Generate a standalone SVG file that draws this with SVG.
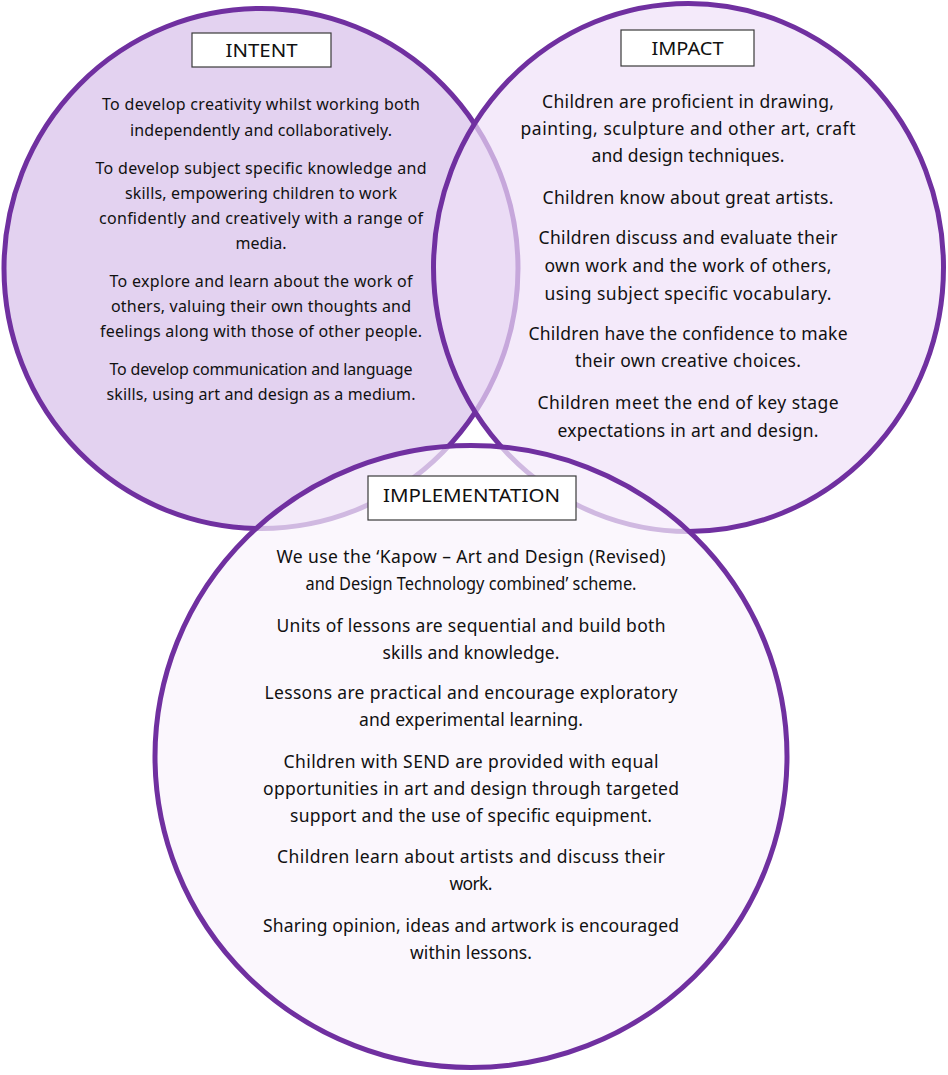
<svg xmlns="http://www.w3.org/2000/svg" width="948" height="1075" viewBox="0 0 948 1075">
<style>
.ring{stroke:#7030a0;stroke-width:5}
.box{fill:#ffffff;stroke:#3a3a3a;stroke-width:1.2}
.lbl{font-family:"Noto Sans","DejaVu Sans",sans-serif;font-size:18px;fill:#111;text-anchor:middle}
.t1{font-family:"Noto Sans","DejaVu Sans",sans-serif;font-size:16px;fill:#111;text-anchor:middle}
.t2{font-family:"Noto Sans","DejaVu Sans",sans-serif;font-size:17.5px;fill:#111;text-anchor:middle}
</style>
<rect x="0" y="0" width="948" height="1075" fill="#ffffff"/>
<g id="connectors"/>
<g id="intent">
<ellipse class="ring" cx="261" cy="268.5" rx="257" ry="260" fill="#e3d2f0"/>
<rect class="box" x="192" y="33" width="139" height="34"/>
<text class="lbl" x="261.5" y="57" textLength="72" lengthAdjust="spacingAndGlyphs">INTENT</text>
<text class="t1" x="261" y="110" textLength="318" lengthAdjust="spacing">To develop creativity whilst working both</text>
<text class="t1" x="261" y="136" textLength="262" lengthAdjust="spacing">independently and collaboratively.</text>
<text class="t1" x="261" y="174" textLength="331" lengthAdjust="spacing">To develop subject specific knowledge and</text>
<text class="t1" x="261" y="199" textLength="272" lengthAdjust="spacing">skills, empowering children to work</text>
<text class="t1" x="261" y="224" textLength="324" lengthAdjust="spacing">confidently and creatively with a range of</text>
<text class="t1" x="261" y="249" textLength="51" lengthAdjust="spacing">media.</text>
<text class="t1" x="261" y="287" textLength="303" lengthAdjust="spacing">To explore and learn about the work of</text>
<text class="t1" x="261" y="312" textLength="300" lengthAdjust="spacing">others, valuing their own thoughts and</text>
<text class="t1" x="261" y="337" textLength="322" lengthAdjust="spacing">feelings along with those of other people.</text>
<text class="t1" x="261" y="375" textLength="303" lengthAdjust="spacing">To develop communication and language</text>
<text class="t1" x="261" y="400" textLength="309" lengthAdjust="spacing">skills, using art and design as a medium.</text>
</g>
<g id="impact">
<ellipse class="ring" cx="688.5" cy="267.5" rx="255" ry="264" fill="#efe0f8" fill-opacity="0.68"/>
<rect class="box" x="621" y="30" width="133" height="36"/>
<text class="lbl" x="687.5" y="54.5" textLength="72" lengthAdjust="spacingAndGlyphs">IMPACT</text>
<text class="t2" x="688" y="108" textLength="292" lengthAdjust="spacing">Children are proficient in drawing,</text>
<text class="t2" x="688" y="135" textLength="335" lengthAdjust="spacing">painting, sculpture and other art, craft</text>
<text class="t2" x="688" y="162" textLength="193" lengthAdjust="spacing">and design techniques.</text>
<text class="t2" x="688" y="204" textLength="291" lengthAdjust="spacing">Children know about great artists.</text>
<text class="t2" x="688" y="244" textLength="299" lengthAdjust="spacing">Children discuss and evaluate their</text>
<text class="t2" x="688" y="272" textLength="287" lengthAdjust="spacing">own work and the work of others,</text>
<text class="t2" x="688" y="300" textLength="287" lengthAdjust="spacing">using subject specific vocabulary.</text>
<text class="t2" x="688" y="340" textLength="319" lengthAdjust="spacing">Children have the confidence to make</text>
<text class="t2" x="688" y="367" textLength="226" lengthAdjust="spacing">their own creative choices.</text>
<text class="t2" x="688" y="409" textLength="301" lengthAdjust="spacing">Children meet the end of key stage</text>
<text class="t2" x="688" y="437" textLength="261" lengthAdjust="spacing">expectations in art and design.</text>
</g>
<g id="implementation">
<ellipse class="ring" cx="471" cy="756.5" rx="316" ry="311" fill="#f9f4fc" fill-opacity="0.7"/>
<rect class="box" x="368" y="476" width="208" height="44"/>
<text class="lbl" x="471.5" y="502" textLength="177" lengthAdjust="spacingAndGlyphs">IMPLEMENTATION</text>
<text class="t2" x="471" y="563" textLength="389" lengthAdjust="spacing">We use the ‘Kapow – Art and Design (Revised)</text>
<text class="t2" x="471" y="590" textLength="331" lengthAdjust="spacingAndGlyphs">and Design Technology combined’ scheme.</text>
<text class="t2" x="471" y="632" textLength="389" lengthAdjust="spacing">Units of lessons are sequential and build both</text>
<text class="t2" x="471" y="659" textLength="177" lengthAdjust="spacing">skills and knowledge.</text>
<text class="t2" x="471" y="699" textLength="413" lengthAdjust="spacing">Lessons are practical and encourage exploratory</text>
<text class="t2" x="471" y="726" textLength="224" lengthAdjust="spacing">and experimental learning.</text>
<text class="t2" x="471" y="768" textLength="375" lengthAdjust="spacing">Children with SEND are provided with equal</text>
<text class="t2" x="471" y="795" textLength="416" lengthAdjust="spacing">opportunities in art and design through targeted</text>
<text class="t2" x="471" y="822" textLength="362" lengthAdjust="spacing">support and the use of specific equipment.</text>
<text class="t2" x="471" y="863" textLength="388" lengthAdjust="spacing">Children learn about artists and discuss their</text>
<text class="t2" x="471" y="890" textLength="43" lengthAdjust="spacing">work.</text>
<text class="t2" x="471" y="932" textLength="416" lengthAdjust="spacing">Sharing opinion, ideas and artwork is encouraged</text>
<text class="t2" x="471" y="959" textLength="122" lengthAdjust="spacing">within lessons.</text>
</g>
</svg>
